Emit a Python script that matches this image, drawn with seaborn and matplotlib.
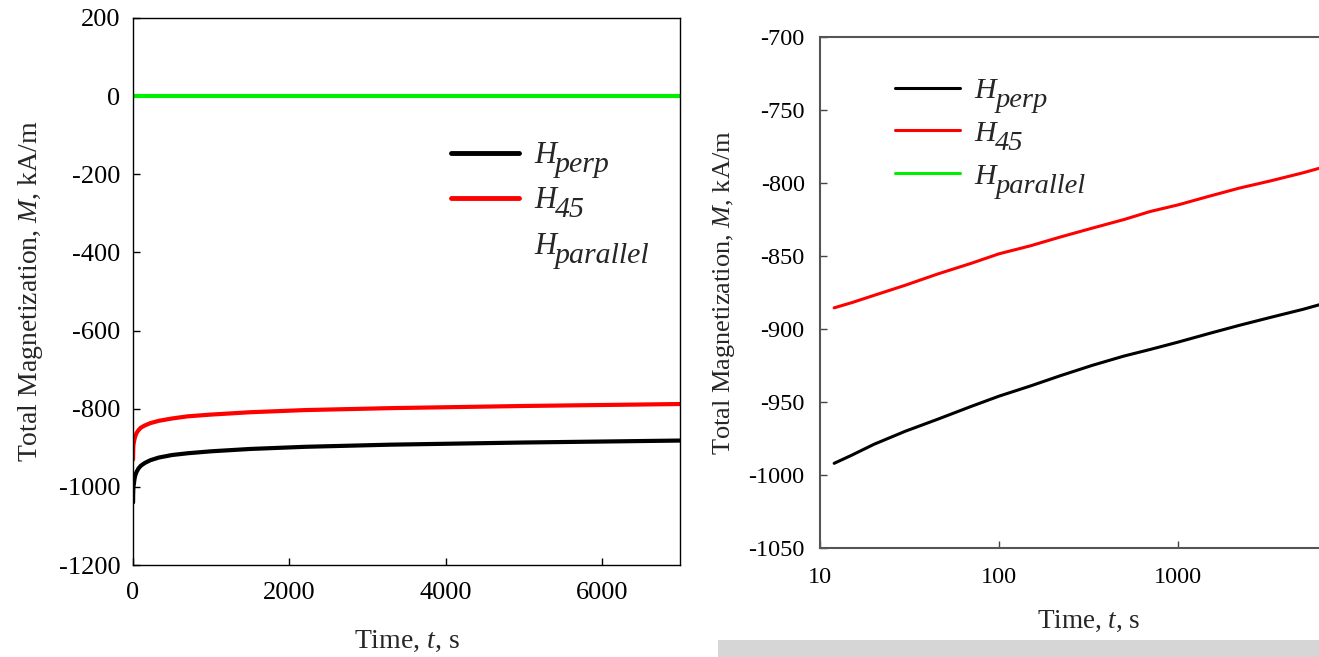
import numpy as np
import pandas as pd
import matplotlib
matplotlib.use("Agg")
import matplotlib.pyplot as plt
from matplotlib.lines import Line2D
from matplotlib.patches import Rectangle
import seaborn as sns

# ---- data ----
time_s = [1, 2, 4, 7, 12, 15, 20, 30, 45, 70, 100, 150, 220, 330, 500,
          700, 1000, 1500, 2200, 3300, 5000, 7000]
m_perp = [-1040, -1022, -1006, -998, -992, -986.5, -979, -970, -962, -953,
          -946, -939, -932, -925, -918.5, -914, -909, -903, -897.5, -892,
          -886.5, -881.5]
m_45 = [-930, -912, -898, -891, -885.5, -882, -877, -870, -862.5, -855,
        -848.5, -843, -837, -831, -825, -819.5, -815, -809, -803.5, -798.5,
        -793, -788]
m_parallel = [0, 0, 0, 0, 0, 0, 0, 0, 0, 0, 0, 0, 0, 0, 0, 0, 0, 0, 0, 0,
              0, 0]

series_main = ["H", "H", "H"]
series_sub = ["perp", "45", "parallel"]
series_colors = ["#000000", "#ff0000", "#00ee00"]

left_yticks = [200, 0, -200, -400, -600, -800, -1000, -1200]
left_xticks = [0, 2000, 4000, 6000]
right_yticks = [-700, -750, -800, -850, -900, -950, -1000, -1050]
right_xticks = [10, 100, 1000]

df = pd.DataFrame({"t": time_s, "perp": m_perp, "h45": m_45, "par": m_parallel})
cols = ["perp", "h45", "par"]

sns.set_style("ticks")
plt.rcParams["font.family"] = ["Liberation Serif", "DejaVu Serif"]
plt.rcParams["mathtext.fontset"] = "custom"
plt.rcParams["mathtext.rm"] = "Liberation Serif"
plt.rcParams["mathtext.it"] = "Liberation Serif:italic"
plt.rcParams["mathtext.bf"] = "Liberation Serif:bold"
plt.rcParams["axes.unicode_minus"] = False

W, H = 1319, 657
fig = plt.figure(figsize=(W / 100, H / 100), dpi=100)
fig.patch.set_facecolor("white")

# light gray band at bottom right (background of the source image)
fig.patches.append(Rectangle((718 / W, 0), 1 - 718 / W, 17 / H,
                             transform=fig.transFigure, facecolor="#d6d6d6",
                             edgecolor="none", zorder=0))

# ---------------- left panel ----------------
axL = fig.add_axes([133 / W, 1 - 565 / H, (680 - 133) / W, (565 - 18) / H])
for c, col in zip(cols, series_colors):
    sns.lineplot(data=df, x="t", y=c, ax=axL, color=col, linewidth=3.0,
                 legend=False)
axL.set_xlim(0, 7000)
axL.set_ylim(-1200, 200)
axL.set_xticks(left_xticks)
axL.set_yticks(left_yticks)
axL.tick_params(direction="in", length=5, width=1, labelsize=19, colors="black")
axL.tick_params(axis="y", pad=9)
axL.tick_params(axis="x", pad=12)
for s in axL.spines.values():
    s.set_color("black")
    s.set_linewidth(1.0)
axL.set_xlabel("Time, $t$, s", fontsize=20, labelpad=18)
axL.set_ylabel("Total Magnetization, $M$, kA/m", fontsize=20, labelpad=10)
handlesL = [Line2D([], [], color=series_colors[0], lw=3.5),
            Line2D([], [], color=series_colors[1], lw=3.5),
            Line2D([], [], color="none", lw=3.5)]
legL = axL.legend(handlesL, series_main, loc="upper left",
                  bbox_to_anchor=(0.5315, 0.825), frameon=False,
                  prop={"family": "Liberation Serif", "style": "italic", "size": 22},
                  handlelength=2.22, handletextpad=0.49, labelspacing=0.53)

# ---------------- right panel ----------------
axR = fig.add_axes([820 / W, 1 - 548 / H, (1357 - 820) / W, (548 - 37) / H])
dfR = df[df["t"] >= 12]
for c, col in zip(cols, series_colors):
    sns.lineplot(data=dfR, x="t", y=c, ax=axR, color=col, linewidth=2.2,
                 legend=False)
axR.set_xscale("log")
axR.set_xlim(10, 10000)
axR.set_ylim(-1050, -700)
axR.set_xticks(right_xticks)
axR.set_xticklabels([str(v) for v in right_xticks])
axR.xaxis.set_minor_locator(matplotlib.ticker.NullLocator())
axR.set_yticks(right_yticks)
axR.tick_params(direction="in", length=5, width=1, labelsize=17.5,
                colors="#444444", labelcolor="black")
axR.tick_params(axis="y", pad=11)
axR.tick_params(axis="x", pad=14)
for s in axR.spines.values():
    s.set_color("#555555")
    s.set_linewidth(1.5)
axR.set_xlabel("Time, $t$, s", fontsize=19.5, labelpad=15)
axR.set_ylabel("Total Magnetization, $M$, kA/m", fontsize=19, labelpad=8)
handlesR = [Line2D([], [], color=c, lw=2.2) for c in series_colors]
legR = axR.legend(handlesR, series_main, loc="upper left",
                  bbox_to_anchor=(0.0894, 0.974), frameon=False,
                  prop={"family": "Liberation Serif", "style": "italic", "size": 21.5},
                  handlelength=2.17, handletextpad=0.5, labelspacing=0.53)

# ---- subscripts for the legend labels (H_perp, H_45, H_parallel) ----
fig.canvas.draw()
renderer = fig.canvas.get_renderer()
for leg, ssize in ((legL, 21.5), (legR, 20.5)):
    for txt, sub in zip(leg.get_texts(), series_sub):
        bb = txt.get_window_extent(renderer)
        x0, y0 = txt.get_transform().transform(txt.get_position())
        fig.text((bb.x1 - 1) / W, (y0 - 9) / H, sub, fontsize=ssize,
                 fontstyle="italic", family="Liberation Serif",
                 ha="left", va="baseline")

fig.savefig("out.png", dpi=100)
